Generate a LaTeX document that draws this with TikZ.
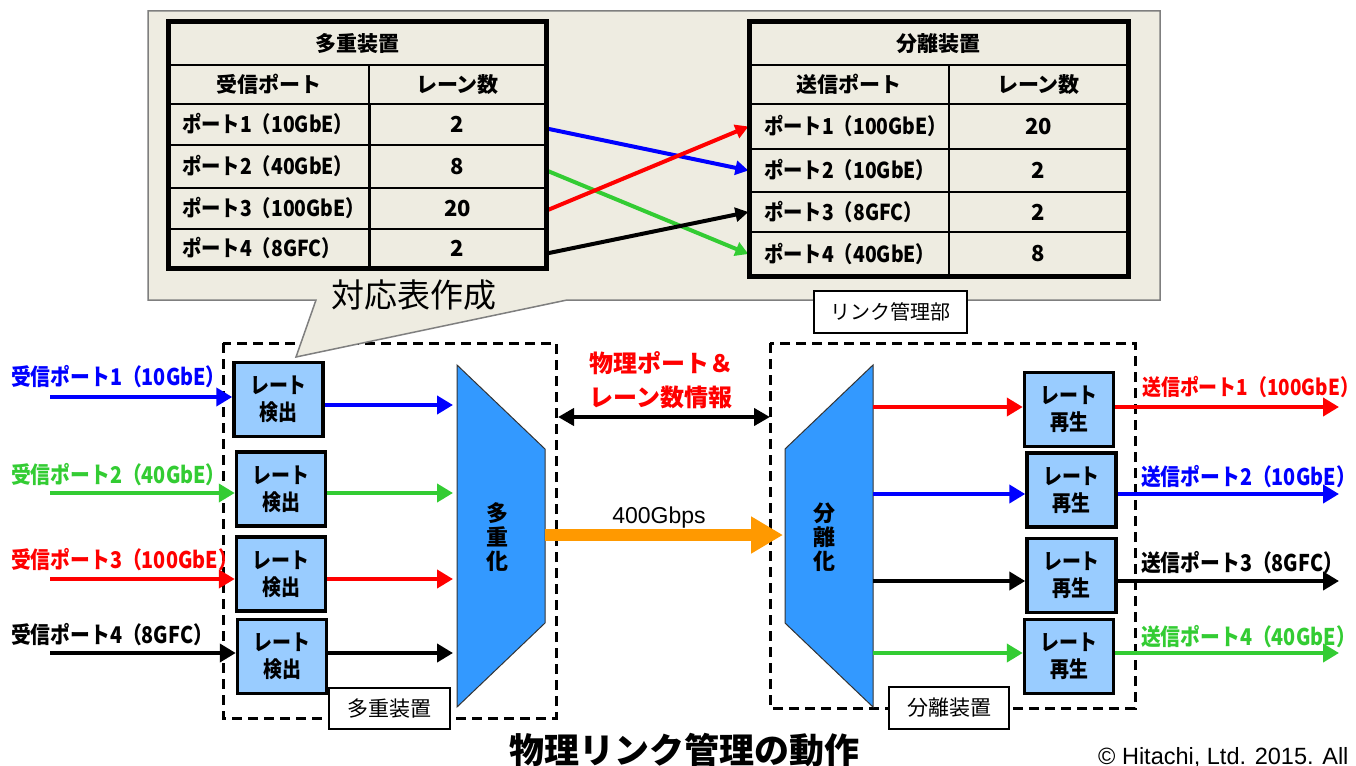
\documentclass[tikz,border=0pt]{standalone}
\usepackage{fontspec}
\usetikzlibrary{arrows.meta,calc}
\newfontfamily\jp[FakeStretch=0.86]{Noto Sans CJK JP}
\newfontfamily\jpt[FakeStretch=0.88]{Noto Sans CJK JP}
\newfontfamily\jpw{Noto Sans CJK JP}
\newfontfamily\arialf{Liberation Sans}
\newcommand\myfs[2]{\fontsize{#1}{#2}\selectfont}
\newcommand\pcl[1]{\makebox[173pt][l]{#1}}
\newcommand\pcr[1]{\makebox[170pt][l]{#1}}
\definecolor{cblue}{HTML}{0000FF}
\definecolor{cgreen}{HTML}{33CC33}
\definecolor{cred}{HTML}{FF0000}
\definecolor{corange}{HTML}{FF9900}
\definecolor{boxblue}{HTML}{99CCFF}
\definecolor{trapblue}{HTML}{3399FF}
\definecolor{callout}{HTML}{EEECE1}
\definecolor{cgray}{HTML}{7F7F7F}
\begin{document}
\begin{tikzpicture}[x=1pt,y=-1pt,
  cell/.style={draw=black, line width=1.2pt, inner sep=0pt, font=\jpw\bfseries\myfs{21}{24}},
  portcell/.style={cell, inner xsep=15pt, font=\jpt\bfseries\myfs{22}{24}},
  numcell/.style={cell, align=center, font=\jpw\bfseries\myfs{22}{24}},
  titlecell/.style={cell, font=\jpw\bfseries\myfs{21}{24}},
  xarr/.style={line width=4pt, -{Triangle[length=13pt,width=14pt]}},
  arr/.style={line width=4.5pt, -{Triangle[length=16pt,width=18pt]}},
  ratebox/.style={draw=black, line width=3.5pt, fill=boxblue, inner sep=0pt,
    minimum width=89pt, minimum height=74pt, align=center,
    font=\jp\bfseries\myfs{22}{27}},
  portlabel/.style={inner sep=0pt, anchor=west, font=\jp\bfseries\myfs{23}{26}},
  tagbox/.style={draw=black, line width=1.2pt, fill=white, inner sep=0pt, font=\jpw\myfs{21}{24}},
  dashbox/.style={draw=black, line width=3pt, dash pattern=on 10pt off 6pt},
  trap/.style={draw=black!80, line width=1pt, fill=trapblue},
  vtext/.style={align=center, inner sep=0pt, font=\jpw\bfseries\myfs{22}{24}}
]
\useasboundingbox (0,0) rectangle (1356,765);
\clip (0,0) rectangle (1356,765);
\fill[white] (0,0) rectangle (1356,765);

% dashed device boxes
\draw[dashbox] (223,343) rectangle (556,718);
\draw[dashbox] (770,343) rectangle (1135,708);

% callout
\path[draw=cgray, line width=1.5pt, fill=callout]
  (148,11) -- (1160,11) -- (1160,300) -- (567,300) -- (296,357) -- (316,300) -- (148,300) -- cycle;
\node[font=\jpw\myfs{33}{36}, inner sep=0pt] (cap) at (414,295) {対応表作成};

% left table
\node[titlecell, minimum width=378pt, minimum height=43pt] (lT) at (357,43.5) {多重装置};
\node[cell, minimum width=201pt, minimum height=39pt] (lH1) at (268.5,84.5) {受信ポート};
\node[cell, minimum width=177pt, minimum height=39pt] (lH2) at (457.5,84.5) {レーン数};
\node[portcell, minimum height=41pt] (lp1) at (268.5,124.5) {\pcl{ポート1（10GbE）}};
\node[numcell, minimum width=177pt, minimum height=41pt] (ln1) at (457.5,124.5) {2};
\node[portcell, minimum height=43pt] (lp2) at (268.5,166.5) {\pcl{ポート2（40GbE）}};
\node[numcell, minimum width=177pt, minimum height=43pt] (ln2) at (457.5,166.5) {8};
\node[portcell, minimum height=41pt] (lp3) at (268.5,208.5) {\pcl{ポート3（100GbE）}};
\node[numcell, minimum width=177pt, minimum height=41pt] (ln3) at (457.5,208.5) {20};
\node[portcell, minimum height=39pt] (lp4) at (268.5,248.5) {\pcl{ポート4（8GFC）}};
\node[numcell, minimum width=177pt, minimum height=39pt] (ln4) at (457.5,248.5) {2};

% right table
\node[titlecell, minimum width=379pt, minimum height=43pt] (rT) at (938.5,43.5) {分離装置};
\node[cell, minimum width=200pt, minimum height=39pt] (rH1) at (849,84.5) {送信ポート};
\node[cell, minimum width=179pt, minimum height=39pt] (rH2) at (1038.5,84.5) {レーン数};
\node[portcell, minimum height=45pt] (rp1) at (849,126.5) {\pcr{ポート1（100GbE）}};
\node[numcell, minimum width=179pt, minimum height=45pt] (rn1) at (1038.5,126.5) {20};
\node[portcell, minimum height=43pt] (rp2) at (849,170.5) {\pcr{ポート2（10GbE）}};
\node[numcell, minimum width=179pt, minimum height=43pt] (rn2) at (1038.5,170.5) {2};
\node[portcell, minimum height=40pt] (rp3) at (849,212) {\pcr{ポート3（8GFC）}};
\node[numcell, minimum width=179pt, minimum height=40pt] (rn3) at (1038.5,212) {2};
\node[portcell, minimum height=44pt] (rp4) at (849,254) {\pcr{ポート4（40GbE）}};
\node[numcell, minimum width=179pt, minimum height=44pt] (rn4) at (1038.5,254) {8};

% mapping arrows
\draw[xarr, cblue] ($(ln1.east)+(0,4)$) -- (rp2.west);
\draw[xarr, cgreen] ($(ln2.east)+(0,4)$) -- (rp4.west);
\draw[xarr, cred] ($(ln3.east)+(0,2)$) -- (rp1.west);
\draw[xarr, black] ($(ln4.east)+(0,5)$) -- (rp3.west);

% table outer borders
\draw[line width=5pt] (168,22) rectangle (546,268);
\draw[line width=5pt] (749,22) rectangle (1128,276);

% link management tag
\node[tagbox, minimum width=153pt, minimum height=42pt, font=\jpw\myfs{20}{24}] (lm) at (890.5,312) {リンク管理部};

% multiplexer / demultiplexer
\path[trap] (457,365) -- (545,449) -- (545,623) -- (457,707) -- cycle;
\node[vtext] (muxt) at (497,537) {多\\重\\化};
\path[trap] (873,365) -- (785,449) -- (785,623) -- (873,707) -- cycle;
\node[vtext] (demuxt) at (824,537) {分\\離\\化};
\coordinate (muxR) at (545,535);
\coordinate (demuxL) at (783,535);

% rate detection boxes
\node[ratebox] (d1) at (278.5,399.5) {レート\\検出};
\node[ratebox] (d2) at (281,489) {レート\\検出};
\node[ratebox] (d3) at (281,574) {レート\\検出};
\node[ratebox] (d4) at (282,656.5) {レート\\検出};

% rate regeneration boxes
\node[ratebox] (g1) at (1069,409.5) {レート\\再生};
\node[ratebox] (g2) at (1071.5,490) {レート\\再生};
\node[ratebox] (g3) at (1071.5,575.5) {レート\\再生};
\node[ratebox] (g4) at (1069,656.5) {レート\\再生};

% input labels and arrows
\node[portlabel, text=cblue] (il1) at (11,377) {受信ポート1（10GbE）};
\node[portlabel, text=cgreen] (il2) at (11,475) {受信ポート2（40GbE）};
\node[portlabel, text=cred] (il3) at (11,560) {受信ポート3（100GbE）};
\node[portlabel, text=black] (il4) at (11,635) {受信ポート4（8GFC）};
\coordinate (i1) at (50,397);
\coordinate (i2) at (50,493);
\coordinate (i3) at (50,579);
\coordinate (i4) at (50,653);
\draw[arr, cblue] (i1) -- (i1 -| d1.west);
\draw[arr, cgreen] (i2) -- (i2 -| d2.west);
\draw[arr, cred] (i3) -- (i3 -| d3.west);
\draw[arr, black] (i4) -- (i4 -| d4.west);

% detection -> mux
\coordinate (m1) at (453,405);
\coordinate (m2) at (453,493);
\coordinate (m3) at (453,579);
\coordinate (m4) at (453,653);
\draw[arr, cblue] (d1.east |- m1) -- (m1);
\draw[arr, cgreen] (d2.east |- m2) -- (m2);
\draw[arr, cred] (d3.east |- m3) -- (m3);
\draw[arr, black] (d4.east |- m4) -- (m4);

% demux -> regeneration
\coordinate (s1) at (873,407);
\coordinate (s2) at (873,494);
\coordinate (s3) at (873,581);
\coordinate (s4) at (873,653);
\draw[arr, cred] (s1) -- (s1 -| g1.west);
\draw[arr, cblue] (s2) -- (s2 -| g2.west);
\draw[arr, black] (s3) -- (s3 -| g3.west);
\draw[arr, cgreen] (s4) -- (s4 -| g4.west);

% outputs
\coordinate (o1) at (1339,407);
\coordinate (o2) at (1339,494);
\coordinate (o3) at (1339,581);
\coordinate (o4) at (1339,653);
\draw[arr, cred] (g1.east |- o1) -- (o1);
\draw[arr, cblue] (g2.east |- o2) -- (o2);
\draw[arr, black] (g3.east |- o3) -- (o3);
\draw[arr, cgreen] (g4.east |- o4) -- (o4);
\node[portlabel, text=cred, font=\jp\bfseries\myfs{22}{26}] (ol1) at (1142,387) {送信ポート1（100GbE）};
\node[portlabel, text=cblue] (ol2) at (1141,477) {送信ポート2（10GbE）};
\node[portlabel, text=black] (ol3) at (1141,563) {送信ポート3（8GFC）};
\node[portlabel, text=cgreen] (ol4) at (1141,637) {送信ポート4（40GbE）};

% link between devices
\node[text=cred, align=center, inner sep=0pt, font=\jpw\bfseries\myfs{24}{34}] (info) at (661,380) {物理ポート＆\\レーン数情報};
\coordinate (dl) at (558,417);
\coordinate (dr) at (770,417);
\draw[line width=4.5pt, {Triangle[length=16pt,width=17pt]}-{Triangle[length=16pt,width=17pt]}] (dl) -- (dr);
\draw[line width=12pt, corange, -{Triangle[length=32pt,width=35pt]}] (muxR) -- (demuxL);
\node[font=\arialf\myfs{23}{26}, inner sep=0pt] (rate) at (659,518) {400Gbps};

% device tags
\node[tagbox, minimum width=121pt, minimum height=41pt] (mtag) at (389.5,708.5) {多重装置};
\node[tagbox, minimum width=120pt, minimum height=42pt] (dtag) at (949,708) {分離装置};

% title and copyright
\node[font=\jpw\bfseries\myfs{35}{38}, inner sep=0pt] (title) at (684,750) {物理リンク管理の動作};
\node[font=\arialf\myfs{23.5}{28}, inner sep=0pt, anchor=base west] (copy) at (1098,764) {© Hitachi, Ltd. 2015. All};
\end{tikzpicture}
\end{document}
